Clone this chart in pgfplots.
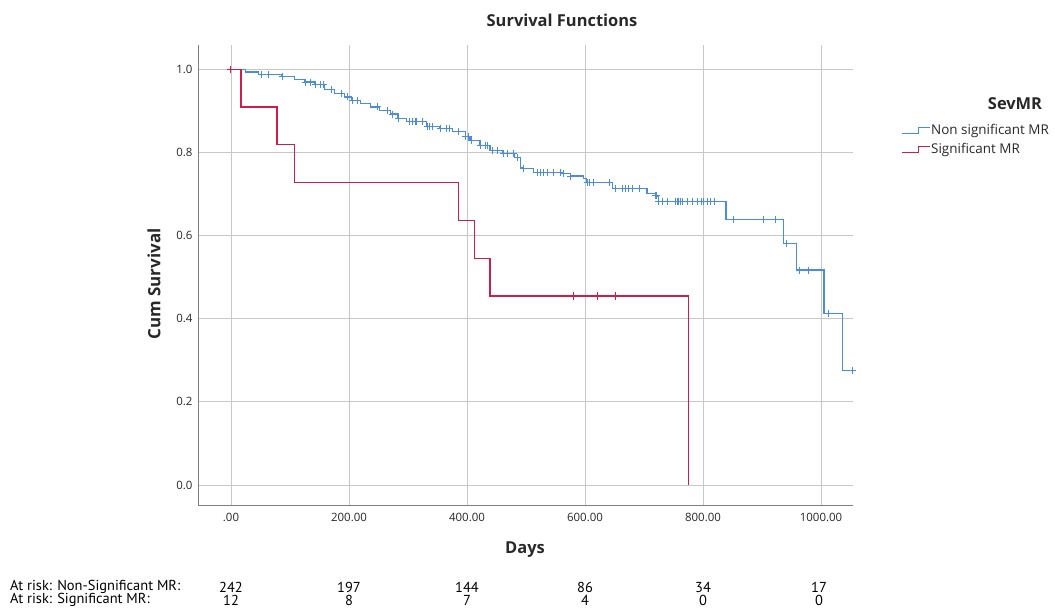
\documentclass[border=0pt]{standalone}
\usepackage{pgfplots}
\pgfplotsset{compat=1.18}
\usepackage{fontspec}
\setmainfont{Open Sans}
\newfontfamily\riskfont{PT Sans}
\definecolor{kmblue}{RGB}{74,140,222}
\definecolor{kmred}{RGB}{205,30,75}
\definecolor{txt}{RGB}{40,40,40}
\begin{document}
\begin{tikzpicture}
\useasboundingbox (0,0) rectangle (1055bp,609bp);
\begin{axis}[
  at={(198bp,104bp)}, anchor=south west,
  scale only axis, width=655bp, height=460bp,
  xmin=-55.9, xmax=1054.2, ymin=-0.048, ymax=1.058,
  axis x line*=bottom, axis y line*=left,
  axis line style={draw=black!50, line width=0.9bp, -},
  xtick={0,200,400,600,800,1000},
  xticklabels={.00,200.00,400.00,600.00,800.00,1000.00},
  ytick={0,0.2,0.4,0.6,0.8,1},
  yticklabels={0.0,0.2,0.4,0.6,0.8,1.0},
  grid=major, major grid style={draw=black!22, line width=0.9bp},
  major tick length=0pt,
  tick label style={font=\fontsize{11.5}{13}\selectfont, text=txt},
  xticklabel style={yshift=-5bp},
  yticklabel style={xshift=-2bp},
]
\addplot[const plot, kmblue, line width=1.1bp, no marks] coordinates {
(0,1.0)(24,0.993)(46,0.988)(86,0.983)(108,0.976)(125,0.969)(142,0.962)(159,0.952)(176,0.942)(193,0.933)(205,0.925)(220,0.917)(236,0.909)(252,0.901)(270,0.892)(283,0.882)(298,0.875)(332,0.863)(354,0.858)(376,0.849)(397,0.837)(405,0.829)(422,0.817)(439,0.805)(461,0.798)(481,0.788)(490,0.764)(495,0.760)(512,0.752)(563,0.748)(575,0.743)(597,0.738)(603,0.728)(647,0.712)(705,0.702)(719,0.695)(724,0.682)(839,0.638)(936,0.580)(958,0.517)(1005,0.413)(1037,0.276)(1054,0.276)
};
\addplot[only marks, mark=+, color=kmblue, mark size=3.5bp, mark options={line width=1bp, draw=kmblue}] coordinates {
(52,0.988)(63,0.988)(88,0.983)(126,0.969)(134,0.969)(143,0.962)(151,0.962)(156,0.962)(171,0.952)(188,0.942)(198,0.933)(206,0.925)(215,0.925)(249,0.909)(266,0.901)(273,0.892)(284,0.882)(303,0.875)(307,0.875)(312,0.875)(315,0.875)(325,0.875)(333,0.863)(337,0.863)(342,0.863)(355,0.858)(366,0.858)(371,0.858)(385,0.849)(398,0.837)(402,0.837)(408,0.829)(423,0.817)(431,0.817)(434,0.817)(444,0.805)(451,0.805)(462,0.798)(468,0.798)(478,0.798)(485,0.788)(496,0.760)(519,0.752)(524,0.752)(529,0.752)(536,0.752)(546,0.752)(558,0.752)(564,0.748)(576,0.743)(604,0.728)(608,0.728)(614,0.728)(642,0.728)(651,0.712)(663,0.712)(668,0.712)(673,0.712)(680,0.712)(693,0.712)(720,0.695)(722,0.695)(725,0.682)(732,0.682)(739,0.682)(753,0.682)(756,0.682)(758,0.682)(761,0.682)(766,0.682)(773,0.682)(783,0.682)(790,0.682)(798,0.682)(800,0.682)(807,0.682)(812,0.682)(820,0.682)(851,0.638)(902,0.638)(922,0.638)(942,0.580)(964,0.517)(978,0.517)(1012,0.413)(1054,0.276)
};
\addplot[const plot, kmred, line width=1.1bp, no marks] coordinates {
(0,1)(17,0.909)(78,0.818)(107,0.727)(386,0.636)(412,0.545)(439,0.4545)(775,0)
};
\addplot[only marks, mark=+, color=kmred, mark size=3.5bp, mark options={line width=1bp, draw=kmred}] coordinates {
(0,1)(580,0.4545)(622,0.4545)(651,0.4545)
};
\end{axis}
% title and axis labels
\node[font=\bfseries\fontsize{16.5}{19}\selectfont, text=txt] at (562bp,589bp) {Survival Functions};
\node[rotate=90, font=\bfseries\fontsize{17}{20}\selectfont, text=txt] at (154bp,325bp) {Cum Survival};
\node[font=\bfseries\fontsize{16.5}{19}\selectfont, text=txt] at (525bp,59bp) {Days};
% legend
\node[font=\bfseries\fontsize{16.5}{19}\selectfont, text=txt] at (1015bp,505bp) {SevMR};
\draw[kmblue, line width=1bp] (902bp,475bp) -- (918bp,475bp) -- (918bp,481bp) -- (930bp,481bp);
\node[anchor=west, inner sep=0pt, font=\fontsize{13.5}{15}\selectfont, text=txt] at (931bp,478bp) {Non significant MR};
\draw[kmred, line width=1bp] (902bp,456bp) -- (918bp,456bp) -- (918bp,462bp) -- (930bp,462bp);
\node[anchor=west, inner sep=0pt, font=\fontsize{13.5}{15}\selectfont, text=txt] at (931bp,459bp) {Significant MR};
% at-risk table
\begin{scope}[every node/.style={font=\riskfont\fontsize{14.5}{16}\selectfont, text=black, inner sep=0pt}]
\node[anchor=west] at (10bp,22bp) {At risk: Non-Significant MR:};
\node[anchor=west] at (10bp,9bp) {At risk: Significant MR:};
\node at (231bp,22bp) {242}; \node at (231bp,9bp) {12};
\node at (349bp,22bp) {197}; \node at (349bp,9bp) {8};
\node at (467bp,22bp) {144}; \node at (467bp,9bp) {7};
\node at (585bp,22bp) {86};  \node at (585bp,9bp) {4};
\node at (703bp,22bp) {34};  \node at (703bp,9bp) {0};
\node at (819bp,22bp) {17};  \node at (819bp,9bp) {0};
\end{scope}
\end{tikzpicture}
\end{document}
